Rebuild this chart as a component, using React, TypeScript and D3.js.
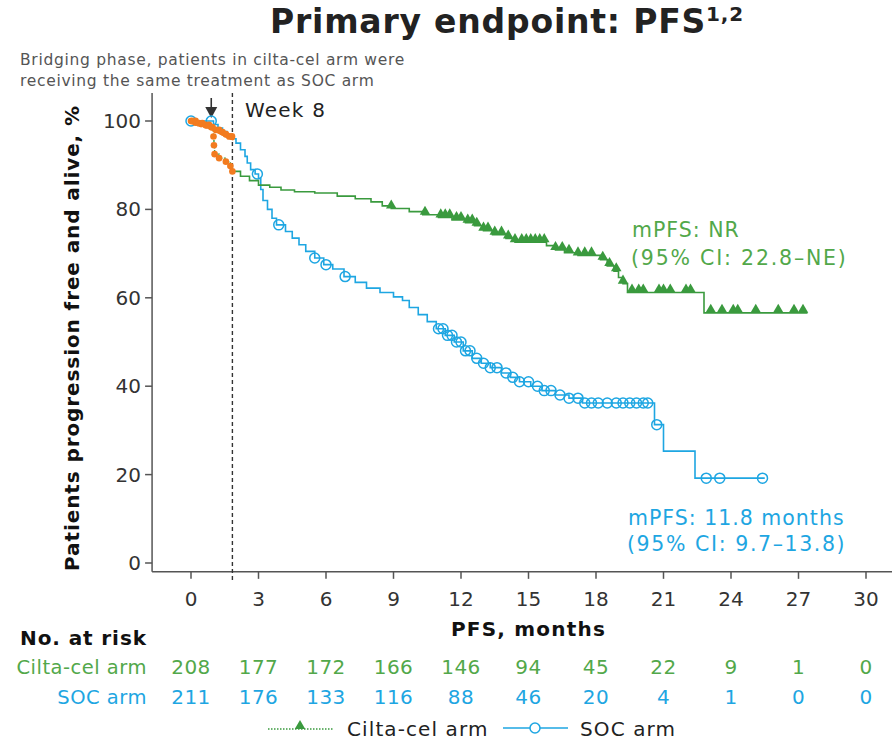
import React from 'react';
import * as d3 from 'd3';

// x axis ticks (months) and at-risk table
const xTicks = [0, 3, 6, 9, 12, 15, 18, 21, 24, 27, 30];
const yTicks = [0, 20, 40, 60, 80, 100];
const atRiskCilta = [208, 177, 172, 166, 146, 94, 45, 22, 9, 1, 0];
const atRiskSoc = [211, 176, 133, 116, 88, 46, 20, 4, 1, 0, 0];

// bridging phase (month, % PFS)
const ciltaBridge: [number, number][] = [
  [0, 100], [0.2, 99.6], [0.45, 99.3], [0.7, 99], [0.9, 98.6], [1.0, 96.5], [1.02, 94.5],
  [1.05, 92.5], [1.25, 91.6], [1.55, 90.8], [1.75, 89.8], [1.84, 88.6],
];
const bridgeTop: [number, number][] = [
  [0, 100], [0.3, 99.5], [0.6, 99.1], [0.9, 98.6], [1.1, 98], [1.3, 97.5],
  [1.5, 97], [1.7, 96.5], [1.84, 96.2],
];
const bridgeMarks = [0.05, 0.2, 0.35, 0.5, 0.65, 0.8, 0.95, 1.1, 1.25, 1.4, 1.55, 1.7, 1.82];

// cilta-cel arm after week 8
const ciltaSteps: [number, number][] = [
  [1.84, 88.6], [2.2, 87.5], [2.6, 86.5], [3.0, 85.5], [3.5, 85], [4.0, 84.4], [4.6, 84],
  [5.5, 83.7], [6.5, 83], [7.3, 82.4], [8.0, 81.7], [8.5, 80.8], [8.9, 80.2], [9.7, 79.5],
  [10.3, 78.8], [11.0, 78.2], [11.6, 77.6], [12.2, 77], [12.6, 76.3], [13.0, 75.2],
  [13.4, 74.3], [14.0, 73.4], [14.4, 72.6], [15.8, 71.8], [16.2, 70.8], [16.6, 70.2],
  [17.2, 69.6], [18.2, 68.6], [18.5, 67.2], [18.8, 66], [19.0, 64.6], [19.2, 63.2],
  [19.4, 61.2], [22.8, 56.6], [27.4, 56.6],
];
const ciltaCensor = [
  8.9, 10.4, 11.1, 11.3, 11.5, 11.8, 12.0, 12.3, 12.5, 12.7, 13.0, 13.2, 13.5, 13.8, 14.1,
  14.4, 14.7, 14.9, 15.1, 15.3, 15.5, 15.7, 16.2, 16.5, 16.8, 17.2, 17.5, 17.8, 18.3, 18.6,
  18.9, 19.2, 19.6, 19.9, 20.1, 20.8, 21.0, 21.3, 22.0, 22.2, 23.1, 23.6, 24.1, 24.3, 25.1,
  26.1, 26.8, 27.2,
];

// SOC arm
const socSteps: [number, number][] = [
  [0, 100], [1.0, 99.2], [1.2, 98.4], [1.4, 97.6], [1.6, 96.8], [1.84, 96], [2.0, 95],
  [2.2, 93.5], [2.4, 92], [2.5, 90.5], [2.65, 89], [2.85, 88], [3.0, 87], [3.1, 84.5],
  [3.2, 82], [3.4, 80], [3.6, 78], [3.8, 76.5], [4.2, 75], [4.5, 73.5], [4.8, 72],
  [5.1, 70.5], [5.5, 69], [5.9, 67.5], [6.3, 66.5], [6.8, 64.8], [7.3, 63.5], [7.8, 62.2],
  [8.4, 61.2], [9.0, 60.2], [9.4, 59.4], [9.7, 57.8], [10.1, 56.2], [10.5, 54.6],
  [10.9, 53], [11.3, 51.5], [11.7, 50], [12.1, 48], [12.5, 46.3], [12.9, 45.2], [13.3, 44.2],
  [13.8, 43], [14.2, 42], [14.6, 41], [15.1, 40], [15.6, 39], [16.2, 38], [16.8, 37.3],
  [17.4, 36.2], [20.6, 31.3], [21.0, 25.3], [22.4, 19.2], [25.5, 19.2],
];
const socCensor = [
  0, 0.9, 2.95, 3.9, 5.5, 6.0, 6.85, 11.0, 11.2, 11.4, 11.6, 11.8, 12.0, 12.2, 12.4, 12.7,
  13.0, 13.3, 13.6, 14.0, 14.3, 14.6, 15.0, 15.4, 15.7, 16.0, 16.4, 16.8, 17.2, 17.5, 17.8,
  18.1, 18.5, 18.9, 19.2, 19.5, 19.8, 20.1, 20.3, 20.7, 22.9, 23.5, 25.4,
];

const GREEN = '#3a9a3e';
const GREEN_TXT = '#52a84a';
const BLUE = '#1ea6e2';
const ORANGE = '#f27b1f';
const FONT = '"DejaVu Sans", Verdana, sans-serif';

const survAt = (steps: [number, number][], t: number) => {
  let v = steps[0][1];
  for (const s of steps) if (s[0] <= t) v = s[1];
  return v;
};

const App = () => {
  const x = d3.scaleLinear().domain([0, 30]).range([191, 866]);
  const y = d3.scaleLinear().domain([0, 100]).range([563, 121]);
  const step = d3.line<[number, number]>().x(d => x(d[0])).y(d => y(d[1])).curve(d3.curveStepAfter);
  const tri = d3.symbol().type(d3.symbolTriangle).size(48)();
  const week8 = 1.84;
  const axisY = y(-2);
  const axisX = x(-1.73);

  return (
    <svg width={892} height={741} style={{ position: 'absolute', left: 0, top: 0 }} fontFamily={FONT}>
      <rect width={892} height={741} fill="#fff" />
      <text x={270} y={33} fontSize={33} fontWeight="bold" fill="#222" letterSpacing={0.8}>
        Primary endpoint: PFS<tspan dy={-12} fontSize={20}>1,2</tspan>
      </text>
      <text x={20} y={65} fontSize={15.5} fill="#555" letterSpacing={0.7}>Bridging phase, patients in cilta-cel arm were</text>
      <text x={20} y={86} fontSize={15.5} fill="#555" letterSpacing={0.7}>receiving the same treatment as SOC arm</text>

      {/* axes */}
      <line x1={axisX} x2={axisX} y1={93} y2={axisY} stroke="#555" strokeWidth={1.5} />
      <line x1={axisX} x2={892} y1={axisY} y2={axisY} stroke="#555" strokeWidth={1.5} />
      {yTicks.map(t => (
        <g key={t}>
          <line x1={axisX - 7} x2={axisX} y1={y(t)} y2={y(t)} stroke="#555" strokeWidth={1.5} />
          <text x={axisX - 11} y={y(t) + 7} textAnchor="end" fontSize={20} fill="#333">{t}</text>
        </g>
      ))}
      {xTicks.map(t => (
        <g key={t}>
          <line x1={x(t)} x2={x(t)} y1={axisY} y2={axisY + 7} stroke="#555" strokeWidth={1.5} />
          <text x={x(t)} y={606} textAnchor="middle" fontSize={20} fill="#333">{t}</text>
        </g>
      ))}
      <text x={x(15)} y={636} textAnchor="middle" fontSize={20} fontWeight="bold" fill="#111" letterSpacing={1.2}>PFS, months</text>
      <text transform="translate(79,338) rotate(-90)" textAnchor="middle" fontSize={20} fontWeight="bold" fill="#111" letterSpacing={0.9}>
        Patients progression free and alive, %
      </text>

      {/* week 8 marker */}
      <line x1={x(week8)} x2={x(week8)} y1={93} y2={582} stroke="#333" strokeWidth={1.4} strokeDasharray="4,3" />
      <text x={245} y={117} fontSize={20} fill="#222" letterSpacing={1.2}>Week 8</text>
      <line x1={x(0.9)} x2={x(0.9)} y1={98} y2={110} stroke="#333" strokeWidth={1.6} />
      <path d={`M${x(0.9) - 6},107 L${x(0.9) + 6},107 L${x(0.9)},118 Z`} fill="#333" />

      {/* SOC curve */}
      <path d={step(socSteps) ?? ''} fill="none" stroke={BLUE} strokeWidth={1.6} />
      {socCensor.map((t, i) => (
        <circle key={i} cx={x(t)} cy={y(survAt(socSteps, t))} r={5} fill="none" stroke={BLUE} strokeWidth={1.5} />
      ))}

      {/* cilta-cel curve */}
      <path d={step(ciltaSteps) ?? ''} fill="none" stroke={GREEN} strokeWidth={1.6} />
      {ciltaCensor.map((t, i) => (
        <path key={i} d={tri ?? ''} transform={`translate(${x(t)},${y(survAt(ciltaSteps, t)) - 3})`} fill={GREEN} />
      ))}

      {/* bridging phase */}
      <path d={step(ciltaBridge) ?? ''} fill="none" stroke={GREEN} strokeWidth={1.4} strokeDasharray="2,1.5" />
      <path d={d3.line<[number, number]>().x(d => x(d[0])).y(d => y(d[1]))(bridgeTop) ?? ''}
        fill="none" stroke={ORANGE} strokeWidth={5} strokeLinecap="round" />
      {ciltaBridge.map((d, i) => (
        <circle key={i} cx={x(d[0])} cy={y(d[1])} r={3.3} fill={ORANGE} />
      ))}
      {bridgeMarks.map((t, i) => (
        <circle key={i} cx={x(t)} cy={y(survAt(bridgeTop, t))} r={3.4} fill={ORANGE} />
      ))}

      {/* annotations */}
      <text x={632} y={237} fontSize={20.5} fill={GREEN_TXT} letterSpacing={1}>mPFS: NR</text>
      <text x={631} y={265} fontSize={20.5} fill={GREEN_TXT} letterSpacing={1.8}>(95% CI: 22.8–NE)</text>
      <text x={628} y={525} fontSize={20.5} fill={BLUE} letterSpacing={1}>mPFS: 11.8 months</text>
      <text x={627} y={551} fontSize={20.5} fill={BLUE} letterSpacing={1.6}>(95% CI: 9.7–13.8)</text>

      {/* at risk table */}
      <text x={20} y={645} fontSize={20} fontWeight="bold" fill="#111" letterSpacing={0.9}>No. at risk</text>
      <text x={147} y={674} textAnchor="end" fontSize={19.5} fill={GREEN_TXT} letterSpacing={0.5}>Cilta-cel arm</text>
      <text x={147} y={704} textAnchor="end" fontSize={19.5} fill={BLUE} letterSpacing={0.5}>SOC arm</text>
      {xTicks.map((t, i) => (
        <g key={t}>
          <text x={x(t)} y={674} textAnchor="middle" fontSize={20} fill={GREEN_TXT} letterSpacing={0.5}>{atRiskCilta[i]}</text>
          <text x={x(t)} y={704} textAnchor="middle" fontSize={20} fill={BLUE} letterSpacing={0.5}>{atRiskSoc[i]}</text>
        </g>
      ))}

      {/* legend */}
      <line x1={268} x2={333} y1={729} y2={729} stroke={GREEN} strokeWidth={1.6} strokeDasharray="1.5,1.5" />
      <path d={tri ?? ''} transform="translate(300,726)" fill={GREEN} />
      <text x={347} y={736} fontSize={20} fill="#222" letterSpacing={1.1}>Cilta-cel arm</text>
      <line x1={503} x2={568} y1={728} y2={728} stroke={BLUE} strokeWidth={1.6} />
      <circle cx={535} cy={728} r={5} fill="#fff" stroke={BLUE} strokeWidth={1.5} />
      <text x={580} y={736} fontSize={20} fill="#222" letterSpacing={1.1}>SOC arm</text>
    </svg>
  );
};

export default App;
